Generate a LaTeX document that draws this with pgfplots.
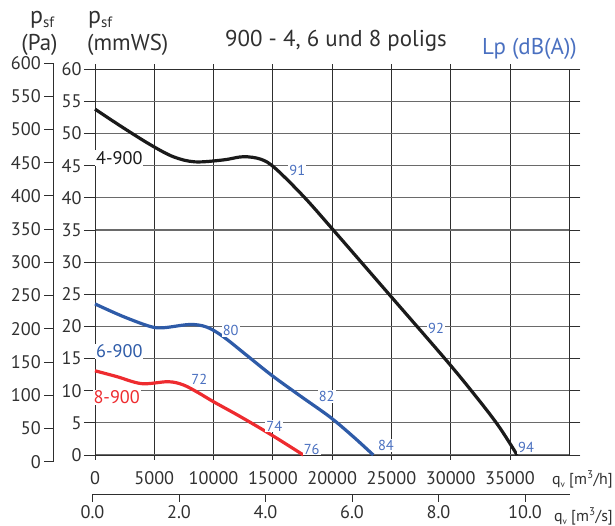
\documentclass[border=0pt]{standalone}
\usepackage{pgfplots}
\pgfplotsset{compat=1.18}
\usepackage{fontspec}
\setmainfont{PT Sans}
\definecolor{cblack}{HTML}{1A1A1A}
\definecolor{cblue}{HTML}{2E5BA8}
\definecolor{cred}{HTML}{EE2B2F}
\definecolor{lblue}{HTML}{4A70C0}
\definecolor{gridc}{HTML}{2E2E2E}
\definecolor{gridh}{HTML}{6A6A6A}
\definecolor{txt}{HTML}{303030}
\newcommand{\fs}{\fontsize{18.3}{21}\selectfont}
\newcommand{\fh}{\fontsize{23}{26}\selectfont}
\newcommand{\fsm}{\fontsize{14.5}{17}\selectfont}
\newcommand{\psf}{{\fontsize{24}{27}\selectfont p}\raisebox{-4bp}{\fontsize{15}{17}\selectfont sf}}
\newcommand{\qv}{q\raisebox{-0.3ex}{\fontsize{9}{10}\selectfont v}}
\begin{document}
\begin{tikzpicture}[x=1bp,y=1bp]
\path[use as bounding box] (0,0) rectangle (615,526);
% main axis (mmWS, m3/h)
\begin{axis}[
  at={(95bp,71bp)}, anchor=south west, scale only axis,
  width=474.3bp, height=385.7bp,
  xmin=0, xmax=40000, ymin=0, ymax=60,
  xtick={0,5000,...,35000}, ytick={0,5,...,60},
  scaled x ticks=false,
  /pgf/number format/.cd, set thousands separator={}, assume math mode=true,
  /pgfplots/.cd,
  grid=major,
  x grid style={gridc, line width=0.9pt},
  y grid style={gridh, line width=1.1pt},
  axis line style={gridc, line width=0.9pt},
  tick align=outside,
  major tick length=11bp,
  xtick style={gridc, line width=0.9pt, /pgfplots/major tick length=5bp},
  ytick style={gridc, line width=0.9pt},
  ticklabel style={font=\fs, text=txt},
  yticklabel style={xshift=1bp},
  xticklabel style={yshift=-2bp},
  clip=false,
]
\addplot[cblack, line width=3.2bp, smooth, tension=0.55] coordinates {
(0,53.8) (2300,51.0) (4640,48.3) (6600,46.4) (8430,45.6) (10820,45.9)
(12500,46.4) (14000,46.0) (15200,44.6) (17600,40.2) (20000,35.2)
(24800,25.0) (29500,15.0) (32000,9.4) (34000,4.6) (35600,0)
};
\addplot[cblue, line width=3.2bp, smooth, tension=0.55] coordinates {
(0,23.5) (2300,21.6) (4640,20.0) (5800,19.8) (8000,20.3) (9420,19.9)
(10820,18.4) (12800,15.5) (14900,12.4) (17300,9.2) (19820,5.9)
(21780,2.85) (23470,0)
};
\addplot[cred, line width=3.2bp, smooth, tension=0.55] coordinates {
(0,13.1) (1830,12.2) (3940,11.1) (6180,11.4) (7450,10.9) (8700,9.7)
(9980,8.3) (12230,6.0) (14900,3.1) (17570,0)
};
% curve names
\node[fill=white, inner sep=1bp, text=cblack, font=\fs] at (axis cs:2050,46.2) {4-900};
\node[fill=white, inner sep=1bp, text=cblue, font=\fs] at (axis cs:2050,16.1) {6-900};
\node[fill=white, inner sep=1bp, text=cred, font=\fs] at (axis cs:1830,9.0) {8-900};
% sound levels
\begin{scope}[every node/.style={fill=white, inner sep=1bp, text=lblue, font=\fsm}]
\node at (axis cs:17060,44.2) {91};
\node at (axis cs:28760,19.7) {92};
\node at (axis cs:36350,1.1) {94};
\node at (axis cs:11440,19.4) {80};
\node at (axis cs:19540,9.1) {82};
\node at (axis cs:24540,1.45) {84};
\node at (axis cs:8800,11.8) {72};
\node at (axis cs:15120,4.5) {74};
\node at (axis cs:18270,0.9) {76};
\end{scope}
\end{axis}
% Pa axis
\begin{axis}[
  at={(53.3bp,64.3bp)}, anchor=south west, scale only axis,
  width=1bp, height=398.7bp,
  xmin=0, xmax=1, ymin=0, ymax=600,
  hide x axis, axis y line*=left,
  axis line style={-, gridc, line width=0.9pt},
  ytick={0,50,...,600},
  tick align=outside, major tick length=9bp,
  ytick style={gridc, line width=0.9pt},
  /pgf/number format/assume math mode=true,
  yticklabel style={font=\fs, text=txt},
]
\addplot[draw=none] coordinates {(0,0)};
\end{axis}
% m3/s axis
\begin{axis}[
  at={(92.5bp,32bp)}, anchor=south west, scale only axis,
  width=477.5bp, height=1bp,
  xmin=0, xmax=11.04, ymin=0, ymax=1,
  hide y axis, axis x line*=bottom,
  axis line style={-, gridc, line width=0.9pt},
  xtick={0,2,...,10},
  tick align=outside, major tick length=8bp,
  xtick style={gridc, line width=0.9pt},
  /pgf/number format/.cd, fixed, fixed zerofill, precision=1, assume math mode=true,
  /pgfplots/.cd,
  xticklabel style={font=\fs, text=txt},
]
\addplot[draw=none] coordinates {(0,0)};
\end{axis}
% texts
\node[anchor=base west, inner sep=0pt, text=txt] at (30,502) {\psf};
\node[anchor=base, inner sep=0pt, font=\fh, text=txt] at (39.5,475.5) {(Pa)};
\node[anchor=base west, inner sep=0pt, text=txt] at (88,502) {\psf};
\node[anchor=base west, inner sep=0pt, font=\fh, text=txt] at (87,475.5) {(mmWS)};
\node[anchor=base, inner sep=0pt, font=\fh, text=txt] at (336,479.3) {900 - 4, 6 und 8 poligs};
\node[anchor=base, inner sep=0pt, font=\fh, text=lblue] at (529.5,471) {Lp (dB(A))};
\node[anchor=base east, inner sep=0pt, font=\fontsize{16}{18}\selectfont, text=txt] at (613,41) {\qv\ [m\textsuperscript{3}/h]};
\node[anchor=base east, inner sep=0pt, font=\fontsize{16}{18}\selectfont, text=txt] at (613,4.3) {\qv\ [m\textsuperscript{3}/s]};
\end{tikzpicture}
\end{document}
